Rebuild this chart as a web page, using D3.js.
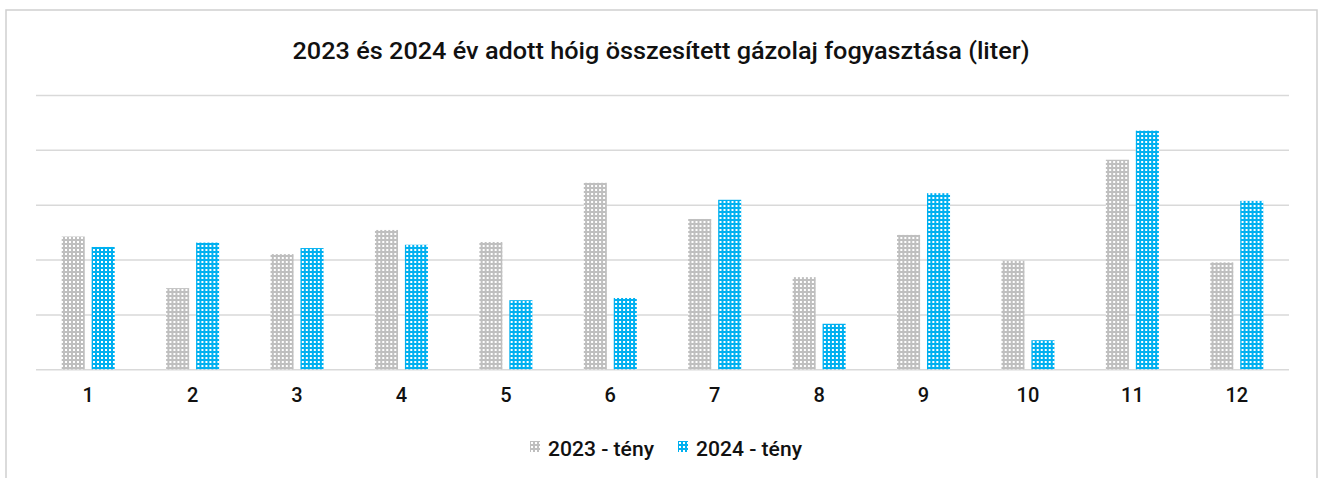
<!DOCTYPE html>
<html>
<head>
<meta charset="utf-8">
<script src="https://cdn.jsdelivr.net/npm/d3@7"></script>
<style>
  html, body { margin: 0; padding: 0; background: #fff; }
  svg { display: block; font-family: Roboto, "Noto Sans", sans-serif; }
</style>
</head>
<body>
<svg></svg>
<script>
const width = 1318;
const height = 478;

// data (liter)
const months = ["1", "2", "3", "4", "5", "6", "7", "8", "9", "10", "11", "12"];
const series = ["2023 - tény", "2024 - tény"];
const values2023 = [24200, 14800, 21000, 25400, 23200, 34000, 27400, 16800, 24500, 19800, 38200, 19500];
const values2024 = [22300, 23100, 22100, 22700, 12600, 13000, 30900, 8300, 32100, 5300, 43500, 30700];
const yTicks = [0, 10000, 20000, 30000, 40000, 50000];

const colors = ["#bfbfbf", "#00b0f0"];

const svg = d3.select("svg")
    .attr("width", width)
    .attr("height", height);

// patterns (small white squares over the fill colour)
const defs = svg.append("defs");
colors.forEach((c, i) => {
    const p = defs.append("pattern")
        .attr("id", "pat" + i)
        .attr("patternUnits", "userSpaceOnUse")
        .attr("width", 4)
        .attr("height", 4);
    p.append("rect").attr("width", 4).attr("height", 4).attr("fill", c);
    p.append("rect").attr("x", 1).attr("y", 1).attr("width", 2).attr("height", 2).attr("fill", "#fff");
});

// chart border
svg.append("rect")
    .attr("x", 6)
    .attr("y", 10)
    .attr("width", 1311)
    .attr("height", 480)
    .attr("fill", "none")
    .attr("stroke", "#cfcfcf")
    .attr("stroke-width", 1.5);

svg.append("text")
    .attr("x", 661)
    .attr("y", 59)
    .attr("text-anchor", "middle")
    .attr("font-size", 23)
    .attr("font-weight", 500)
    .attr("fill", "#111")
    .attr("textLength", 737)
    .attr("lengthAdjust", "spacingAndGlyphs")
    .text("2023 és 2024 év adott hóig összesített gázolaj fogyasztása (liter)");

const x0 = d3.scaleBand()
    .domain(months)
    .range([36, 1289])
    .padding(0);

const bw = x0.bandwidth();
const x1 = d3.scaleBand()
    .domain(series)
    .range([bw / 2 - 26.5, bw / 2 + 26.5])
    .paddingInner(0.23);

const y = d3.scaleLinear()
    .domain([0, 50000])
    .range([369.3, 95]);

// gridlines
svg.append("g")
    .attr("transform", "translate(36,0)")
    .call(d3.axisLeft(y).tickValues(yTicks).tickSize(-(1289 - 36)).tickFormat(""))
    .call(g => g.select(".domain").remove())
    .call(g => g.selectAll(".tick line").attr("stroke", "#d9d9d9").attr("stroke-width", 1.5));

// bars
const rows = months.map((m, i) => ({ month: m, vals: [values2023[i], values2024[i]] }));

const groups = svg.append("g").selectAll("g")
    .data(rows)
    .enter().append("g")
    .attr("transform", d => `translate(${x0(d.month)},0)`);

groups.selectAll("rect")
    .data(d => d.vals.map((v, i) => ({ key: series[i], value: v, i })))
    .enter().append("rect")
    .attr("x", d => x1(d.key))
    .attr("y", d => y(d.value))
    .attr("width", x1.bandwidth())
    .attr("height", d => y(0) - y(d.value))
    .attr("fill", d => `url(#pat${d.i})`);

// x axis labels
svg.append("g")
    .attr("transform", "translate(0,369.3)")
    .call(d3.axisBottom(x0).tickSize(0).tickPadding(19))
    .call(g => g.select(".domain").remove())
    .call(g => g.selectAll("text")
        .attr("font-family", "Roboto, sans-serif")
        .attr("font-size", 20)
        .attr("font-weight", 500)
        .attr("fill", "#111"));

// legend
const legendX = [530, 678];
const legend = svg.append("g").selectAll("g")
    .data(series)
    .enter().append("g")
    .attr("transform", (d, i) => `translate(${legendX[i]},441)`);

legend.append("rect")
    .attr("width", 10)
    .attr("height", 11)
    .attr("fill", (d, i) => `url(#pat${i})`);

legend.append("text")
    .attr("x", 18)
    .attr("y", 15)
    .attr("font-size", 21)
    .attr("font-weight", 500)
    .attr("fill", "#111")
    .attr("textLength", 106)
    .attr("lengthAdjust", "spacingAndGlyphs")
    .text(d => d);
</script>
</body>
</html>
